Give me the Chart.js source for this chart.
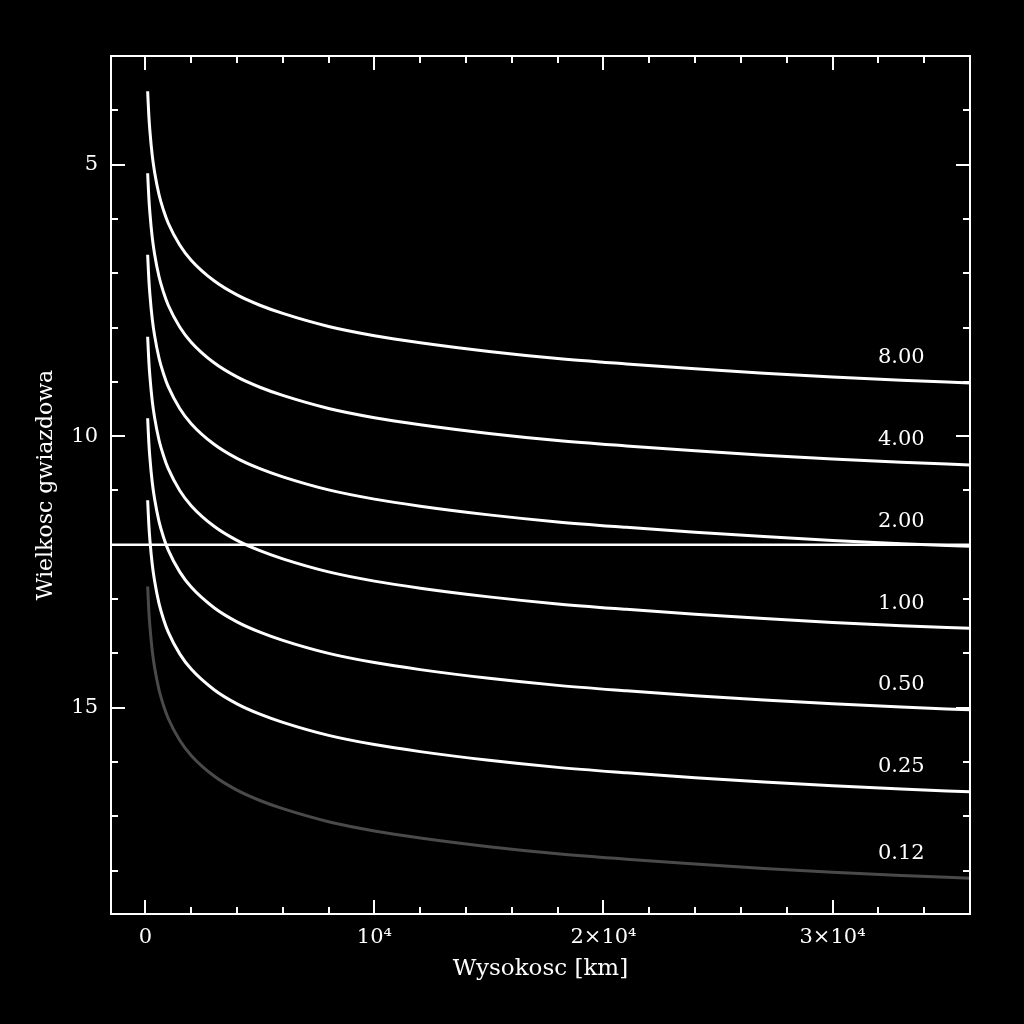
<!DOCTYPE html>
<html><head><meta charset="utf-8">
<script src="https://cdn.jsdelivr.net/npm/chart.js@4"></script>
<style>html,body{margin:0;padding:0;background:#000;}#wrap{width:1024px;height:1024px;}</style>
</head><body><div id="wrap"><canvas id="c" width="1024" height="1024"></canvas></div>
<script>
// Altitude samples [km]
const altitudesKm = [100,150,200,300,400,600,800,1000,1500,2000,3000,4000,5000,6000,8000,10000,12000,15000,18000,21000,24000,27000,30000,33000,36000];
// Stellar magnitude per object size
const mag800 = [3.65,4.09,4.39,4.83,5.13,5.56,5.85,6.08,6.48,6.76,7.14,7.40,7.59,7.74,7.98,8.15,8.28,8.44,8.57,8.67,8.76,8.84,8.91,8.97,9.02];
const mag400 = [5.16,5.60,5.90,6.34,6.64,7.07,7.36,7.59,7.99,8.27,8.65,8.91,9.10,9.25,9.49,9.66,9.79,9.95,10.08,10.18,10.27,10.35,10.42,10.48,10.53];
const mag200 = [6.66,7.10,7.40,7.84,8.14,8.57,8.86,9.09,9.49,9.77,10.15,10.41,10.60,10.75,10.99,11.16,11.29,11.45,11.58,11.68,11.77,11.85,11.92,11.98,12.03];
const mag100 = [8.17,8.61,8.91,9.35,9.65,10.08,10.37,10.60,11.00,11.28,11.66,11.92,12.11,12.26,12.50,12.67,12.80,12.96,13.09,13.19,13.28,13.36,13.43,13.49,13.54];
const mag050 = [9.67,10.11,10.41,10.85,11.15,11.58,11.87,12.10,12.50,12.78,13.16,13.42,13.61,13.76,14.00,14.17,14.30,14.46,14.59,14.69,14.78,14.86,14.93,14.99,15.04];
const mag025 = [11.18,11.62,11.92,12.36,12.66,13.09,13.38,13.61,14.01,14.29,14.67,14.93,15.12,15.27,15.51,15.68,15.81,15.97,16.10,16.20,16.29,16.37,16.44,16.50,16.55];
const mag012 = [12.77,13.21,13.51,13.95,14.25,14.68,14.97,15.20,15.60,15.88,16.26,16.52,16.71,16.86,17.10,17.27,17.40,17.56,17.69,17.79,17.88,17.96,18.03,18.09,18.14];
const sizeLabels = ['8.00','4.00','2.00','1.00','0.50','0.25','0.12'];
const sizeSeries = [mag800,mag400,mag200,mag100,mag050,mag025,mag012];
const seriesColors = ['#ffffff','#ffffff','#ffffff','#ffffff','#ffffff','#ffffff','#4a4a4a'];
const limitMagnitude = 12;
const labelAltitudeKm = 33000;

// Axes
const xRange = [-1500, 36000];
const yRange = [3, 18.8];
const xTickValues = [0,10000,20000,30000];
const xTickLabels = ['0','10\u2074','2\u00d710\u2074','3\u00d710\u2074'];
const xMinorStep = 2000;
const yTickValues = [5,10,15];
const yTickLabels = ['5','10','15'];
const yMinorStep = 1;
const xTitle = 'Wysokosc [km]';
const yTitle = 'Wielkosc gwiazdowa';

const FONT = "'DejaVu Serif', serif";

const datasets = sizeSeries.map((s, i) => ({
  label: sizeLabels[i],
  data: altitudesKm.map((h, j) => ({x: h, y: s[j]})),
  borderColor: seriesColors[i],
  borderWidth: 3,
  pointRadius: 0,
  cubicInterpolationMode: 'monotone',
  fill: false
}));
datasets.push({
  label: 'limit',
  data: [{x: xRange[0], y: limitMagnitude}, {x: xRange[1], y: limitMagnitude}],
  borderColor: '#ffffff',
  borderWidth: 2.5,
  pointRadius: 0,
  fill: false
});

const framePlugin = {
  id: 'frame',
  beforeDraw(chart) {
    const ctx = chart.ctx;
    ctx.save();
    ctx.fillStyle = '#000';
    ctx.fillRect(0, 0, chart.width, chart.height);
    ctx.restore();
  },
  afterDatasetsDraw(chart) {
    const ctx = chart.ctx;
    const a = chart.chartArea;
    const xs = chart.scales.x, ys = chart.scales.y;
    ctx.save();
    // curve labels
    ctx.fillStyle = '#ffffff';
    ctx.font = "21px " + FONT;
    ctx.textAlign = 'center';
    ctx.textBaseline = 'middle';
    const lx = xs.getPixelForValue(labelAltitudeKm);
    sizeSeries.forEach((s, i) => {
      const ly = ys.getPixelForValue(s[s.length - 1]) - 25;
      ctx.fillText(sizeLabels[i], lx, ly);
    });
    // frame
    ctx.strokeStyle = '#ffffff';
    ctx.lineWidth = 2;
    ctx.strokeRect(a.left, a.top, a.right - a.left, a.bottom - a.top);
    // ticks inside frame
    ctx.beginPath();
    const major = 14, minor = 7;
    for (let v = Math.ceil(xRange[0] / xMinorStep) * xMinorStep; v <= xRange[1]; v += xMinorStep) {
      const p = Math.round(xs.getPixelForValue(v));
      const len = xTickValues.includes(v) ? major : minor;
      ctx.moveTo(p, a.bottom); ctx.lineTo(p, a.bottom - len);
      ctx.moveTo(p, a.top); ctx.lineTo(p, a.top + len);
    }
    for (let v = Math.ceil(yRange[0]); v <= yRange[1]; v += yMinorStep) {
      const p = Math.round(ys.getPixelForValue(v));
      const len = yTickValues.includes(v) ? major : minor;
      ctx.moveTo(a.left, p); ctx.lineTo(a.left + len, p);
      ctx.moveTo(a.right, p); ctx.lineTo(a.right - len, p);
    }
    ctx.stroke();
    ctx.restore();
  }
};

new Chart(document.getElementById('c'), {
  type: 'line',
  data: {datasets},
  plugins: [framePlugin],
  options: {
    responsive: false,
    animation: false,
    devicePixelRatio: 1,
    layout: {padding: {left: 33, top: 56, right: 54, bottom: 41}},
    plugins: {legend: {display: false}, tooltip: {enabled: false}},
    scales: {
      x: {
        type: 'linear', min: xRange[0], max: xRange[1],
        grid: {display: false, drawTicks: false},
        border: {display: false},
        afterBuildTicks: s => { s.ticks = xTickValues.map(v => ({value: v})); },
        afterFit: s => { s.height = 69; },
        ticks: {color: '#ffffff', font: {family: FONT, size: 21}, padding: 11, maxRotation: 0, autoSkip: false,
          callback: (v, i) => xTickLabels[i]},
        title: {display: true, text: xTitle, color: '#ffffff', font: {family: FONT, size: 23}, padding: 0}
      },
      y: {
        type: 'linear', min: yRange[0], max: yRange[1], reverse: true,
        grid: {display: false, drawTicks: false},
        border: {display: false},
        afterBuildTicks: s => { s.ticks = yTickValues.map(v => ({value: v})); },
        afterFit: s => { s.width = 78; },
        ticks: {color: '#ffffff', font: {family: FONT, size: 21}, padding: 13, autoSkip: false,
          callback: (v, i) => yTickLabels[i]},
        title: {display: true, text: yTitle, color: '#ffffff', font: {family: FONT, size: 22}, padding: 0}
      }
    }
  }
});
</script>
</body></html>
